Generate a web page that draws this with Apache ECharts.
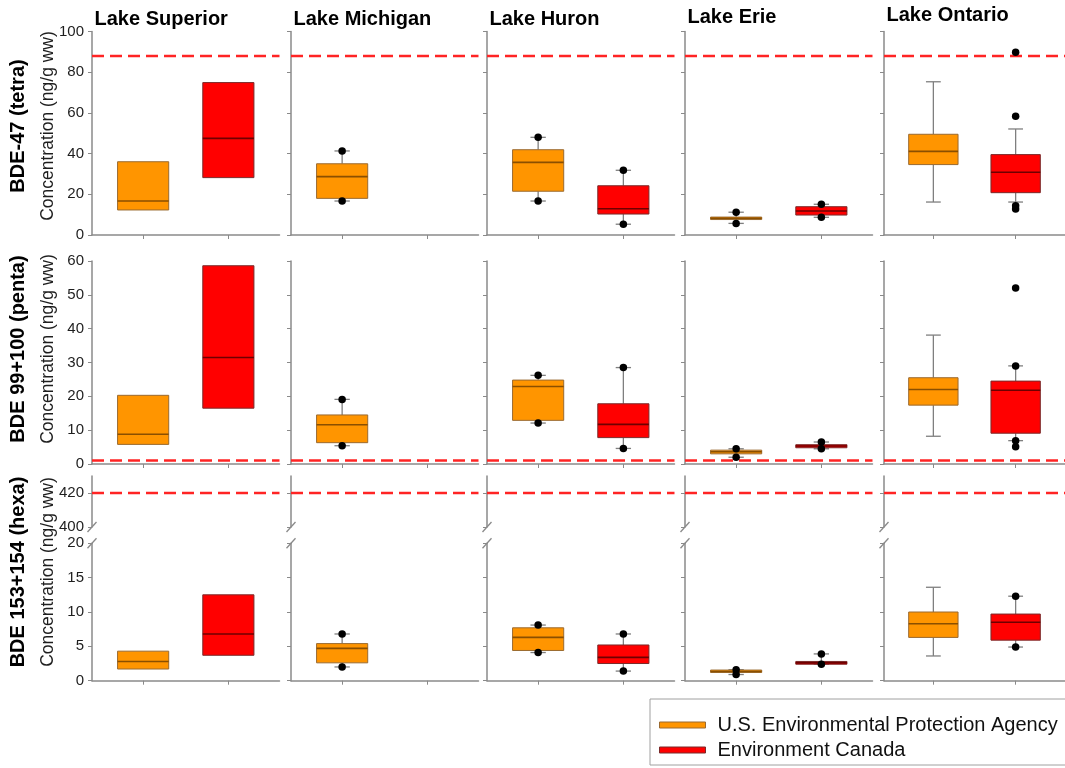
<!DOCTYPE html>
<html>
<head>
<meta charset="utf-8">
<script src="https://cdn.jsdelivr.net/npm/echarts@6/dist/echarts.min.js"></script>
<style>
  html, body { margin: 0; padding: 0; background: #fff; }
  #chart { width: 1065px; height: 768px; }
</style>
</head>
<body>
<div id="chart"></div>
<script>
// ---- data ----
const lakes = ['Lake Superior', 'Lake Michigan', 'Lake Huron', 'Lake Erie', 'Lake Ontario'];
const agencies = ['U.S. Environmental Protection Agency', 'Environment Canada'];
const congeners = ['BDE-47 (tetra)', 'BDE 99+100 (penta)', 'BDE 153+154 (hexa)'];
const unitLabel = 'Concentration (ng/g ww)';
const guideline = [88, 1, 420];

// y tick labels for each panel row
const tetraTicks = [0, 20, 40, 60, 80, 100];
const pentaTicks = [0, 10, 20, 30, 40, 50, 60];
const hexaTicks = [0, 5, 10, 15, 20];
const hexaUpperTicks = [400, 420];

// per lake: [lower whisker, Q1, median, Q3, upper whisker]; null = not sampled / no whisker
const tetraEPA = [
  [null, 12.3, 16.7, 36.0, null],
  [16.7, 18.0, 28.7, 35.0, 41.3],
  [16.7, 21.5, 35.7, 41.9, 48.0],
  [5.7, 7.6, 8.2, 8.8, 11.2],
  [16.2, 34.6, 41.1, 49.5, 75.3]
];
const tetraEC = [
  [null, 28.2, 47.5, 74.9, null],
  null,
  [5.3, 10.3, 12.9, 24.2, 31.8],
  [8.7, 9.8, 11.8, 13.9, 15.1],
  [16.2, 20.8, 30.8, 39.5, 52.1]
];
const pentaEPA = [
  [null, 5.8, 8.8, 20.3, null],
  [5.4, 6.3, 11.6, 14.5, 19.1],
  [12.1, 12.9, 22.9, 24.8, 26.2],
  [2.0, 3.0, 3.6, 4.1, 4.5],
  [8.2, 17.4, 22.0, 25.5, 38.1]
];
const pentaEC = [
  [null, 16.5, 31.5, 58.6, null],
  null,
  [4.6, 7.8, 11.7, 17.8, 28.5],
  [4.5, 4.8, 5.3, 5.7, 6.5],
  [6.9, 9.1, 21.8, 24.5, 29.0]
];
const hexaEPA = [
  [null, 1.7, 2.8, 4.3, null],
  [2.0, 2.6, 4.7, 5.4, 6.8],
  [4.1, 4.4, 6.3, 7.7, 8.1],
  [0.9, 1.2, 1.35, 1.55, 1.6],
  [3.6, 6.3, 8.3, 10.0, 13.6]
];
const hexaEC = [
  [null, 3.7, 6.8, 12.5, null],
  null,
  [1.4, 2.5, 3.4, 5.2, 6.8],
  [2.4, 2.4, 2.6, 2.8, 3.9],
  [4.9, 5.9, 8.5, 9.7, 12.3]
];

// individual points drawn as dots, per lake
const tetraEPAPoints = [[], [41.3, 16.7], [48.0, 16.7], [11.2, 5.7], []];
const tetraECPoints = [[], [], [31.8, 5.3], [15.1, 8.7], [58.3, 89.8, 14.4, 12.8]];
const pentaEPAPoints = [[], [19.1, 5.4], [26.2, 12.1], [4.5, 2.0], []];
const pentaECPoints = [[], [], [28.5, 4.6], [6.5, 4.5], [52.0, 29.0, 6.9, 5.1]];
const hexaEPAPoints = [[], [6.8, 2.0], [8.1, 4.1], [1.6, 0.9], []];
const hexaECPoints = [[], [], [6.8, 1.4], [3.9, 2.4], [12.3, 4.9]];

// ---- layout & style ----
const FONT = '"Liberation Sans", Arial, sans-serif';
const colX = [92, 291, 487, 685, 884];
const panelW = 187.5;
const X_MIN = 0.4, X_MAX = 2.6;            // agency positions sit at 1 and 2
const gridRows = [
  { top: 31.5, height: 203.5 },            // tetra
  { top: 261, height: 203 },               // penta
  { top: 476, height: 51 },                // hexa, upper segment (400–430)
  { top: 543.3, height: 137.4 }            // hexa, lower segment (0–20)
];
const rowAxes = [
  { min: 0, max: 100, ticks: tetraTicks },
  { min: 0, max: 60, ticks: pentaTicks },
  { min: 400, max: 430, ticks: hexaUpperTicks },
  { min: 0, max: 20, ticks: hexaTicks }
];
const fills = ['#ff9500', '#ff0000'];
const medianColors = ['#8a4f00', '#6e0000'];
const boxBorder = ['#9a6a30', '#7a2a2a'];
const axisGray = '#8a8a8a';
const whiskerGray = '#7f7f7f';

const boxRows = [
  { row: 0, sets: [tetraEPA, tetraEC], points: [tetraEPAPoints, tetraECPoints] },
  { row: 1, sets: [pentaEPA, pentaEC], points: [pentaEPAPoints, pentaECPoints] },
  { row: 3, sets: [hexaEPA, hexaEC], points: [hexaEPAPoints, hexaECPoints] }
];
const guideRows = [0, 1, 2];   // the hexa guideline sits in the upper segment

function makeRenderBox(agency) {
  return function (params, api) {
    const x = api.value(0);
    const v = [1, 2, 3, 4, 5].map(i => api.value(i));
    const half = 0.3, cap = 0.09;
    const c = (xx, yy) => api.coord([xx, yy]);
    const seg = (p1, p2, style) => ({
      type: 'line',
      shape: { x1: p1[0], y1: p1[1], x2: p2[0], y2: p2[1] },
      style: style
    });
    const wStyle = { stroke: whiskerGray, lineWidth: 1.3 };
    const children = [];
    const has = n => n != null && !isNaN(n);
    if (has(v[4])) {
      children.push(seg(c(x, v[3]), c(x, v[4]), wStyle));
      children.push(seg(c(x - cap, v[4]), c(x + cap, v[4]), wStyle));
    }
    if (has(v[0])) {
      children.push(seg(c(x, v[1]), c(x, v[0]), wStyle));
      children.push(seg(c(x - cap, v[0]), c(x + cap, v[0]), wStyle));
    }
    const tl = c(x - half, v[3]);
    const br = c(x + half, v[1]);
    children.push({
      type: 'rect',
      shape: { x: tl[0], y: tl[1], width: br[0] - tl[0], height: Math.max(br[1] - tl[1], 1) },
      style: { fill: fills[agency], stroke: boxBorder[agency], lineWidth: 1 }
    });
    children.push(seg(c(x - half, v[2]), c(x + half, v[2]),
      { stroke: medianColors[agency], lineWidth: 1.6 }));
    return { type: 'group', children: children };
  };
}

const grids = [], xAxes = [], yAxes = [], series = [], graphics = [];

gridRows.forEach((g, r) => {
  colX.forEach((x0, c) => {
    const idx = r * colX.length + c;
    grids.push({ left: x0, top: g.top, width: panelW, height: g.height });
    xAxes.push({
      type: 'value', gridIndex: idx, min: X_MIN, max: X_MAX,
      axisLine: { show: r !== 2, onZero: false, lineStyle: { color: axisGray, width: 1.5 } },
      axisTick: { show: r !== 2, length: 4, customValues: [1, 2], lineStyle: { color: axisGray, width: 1 } },
      axisLabel: { show: false, customValues: [1, 2] },
      splitLine: { show: false }
    });
    const ax = rowAxes[r];
    yAxes.push({
      type: 'value', gridIndex: idx, min: ax.min, max: ax.max,
      axisLine: { show: true, onZero: false, lineStyle: { color: axisGray, width: 1.5 } },
      axisTick: { show: true, length: 4, customValues: ax.ticks, lineStyle: { color: axisGray, width: 1 } },
      axisLabel: {
        show: c === 0, customValues: ax.ticks, margin: 8,
        fontFamily: FONT, fontSize: 15, color: '#1e1e1e'
      },
      splitLine: { show: false }
    });
  });
});

// boxes and dots
boxRows.forEach(br => {
  colX.forEach((x0, c) => {
    const idx = br.row * colX.length + c;
    [0, 1].forEach(a => {
      const s = br.sets[a][c];
      series.push({
        type: 'custom', name: agencies[a],
        xAxisIndex: idx, yAxisIndex: idx,
        renderItem: makeRenderBox(a),
        encode: { x: 0, y: [1, 2, 3, 4, 5] },
        data: s ? [[a + 1].concat(s)] : [],
        z: 3, silent: true
      });
      const pts = br.points[a][c];
      if (pts.length) {
        series.push({
          type: 'scatter', xAxisIndex: idx, yAxisIndex: idx,
          symbol: 'circle', symbolSize: 7.5,
          itemStyle: { color: '#000', opacity: 1 },
          data: pts.map(p => [a + 1, p]),
          z: 5, silent: true
        });
      }
    });
  });
});

// guideline (dashed red) in every panel
guideRows.forEach((r, k) => {
  colX.forEach((x0, c) => {
    const idx = r * colX.length + c;
    series.push({
      type: 'line', xAxisIndex: idx, yAxisIndex: idx,
      data: [[X_MIN, guideline[k]], [X_MAX, guideline[k]]],
      symbol: 'none', silent: true, z: 4,
      lineStyle: { color: '#ff2424', width: 2.5, type: [12, 6] }
    });
  });
});

// axis break marks on the hexa panels
colX.forEach(x0 => {
  [gridRows[2].top + gridRows[2].height, gridRows[3].top].forEach(y => {
    graphics.push({
      type: 'line', silent: true,
      shape: { x1: x0 - 4.5, y1: y + 5, x2: x0 + 4.5, y2: y - 5 },
      style: { stroke: axisGray, lineWidth: 1.3 }
    });
  });
});

// row titles on the left
const rowCenters = [126, 349, 572];
congeners.forEach((name, i) => {
  graphics.push({
    type: 'text', x: 18.5, y: rowCenters[i], rotation: Math.PI / 2, silent: true,
    style: {
      text: name, align: 'center', verticalAlign: 'middle',
      font: 'bold 20px ' + FONT, fill: '#000'
    }
  });
  graphics.push({
    type: 'text', x: 48, y: rowCenters[i], rotation: Math.PI / 2, silent: true,
    style: {
      text: unitLabel, align: 'center', verticalAlign: 'middle',
      font: '17.5px ' + FONT, fill: '#1e1e1e'
    }
  });
});

// lake titles
const titleTops = [9.5, 9, 9, 7.5, 5.5];
const titles = lakes.map((name, c) => ({
  text: name, left: colX[c] + 2.5, top: titleTops[c], padding: 0,
  textStyle: { fontFamily: FONT, fontSize: 20, fontWeight: 'bold', color: '#000', lineHeight: 20 }
}));

const chart = echarts.init(document.getElementById('chart'), null, { renderer: 'canvas' });
chart.setOption({
  animation: false,
  backgroundColor: '#fff',
  title: titles,
  grid: grids,
  xAxis: xAxes,
  yAxis: yAxes,
  series: series,
  graphic: graphics,
  legend: {
    orient: 'vertical', left: 650, top: 699,
    padding: [16, 12, 5, 9], itemGap: 5,
    itemWidth: 46, itemHeight: 6, icon: 'rect',
    borderColor: '#a0a0a0', borderWidth: 1, backgroundColor: '#fff',
    selectedMode: false,
    textStyle: { fontFamily: FONT, fontSize: 20, color: '#111', padding: [0, 0, 0, 7] },
    data: [
      { name: agencies[0], itemStyle: { color: fills[0], borderColor: boxBorder[0], borderWidth: 1 } },
      { name: agencies[1], itemStyle: { color: fills[1], borderColor: boxBorder[1], borderWidth: 1 } }
    ]
  }
});
</script>
</body>
</html>
